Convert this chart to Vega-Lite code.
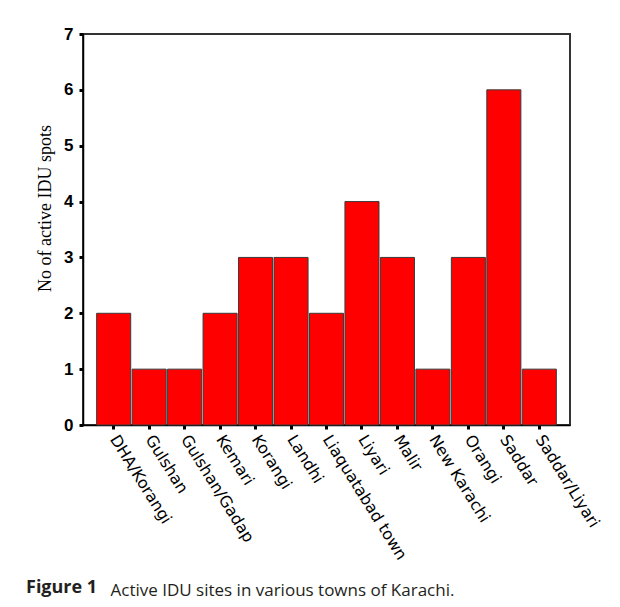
{
  "$schema": "https://vega.github.io/schema/vega-lite/v6.json",
  "autosize": "none",
  "width": 487,
  "height": 391,
  "padding": {"left": 83, "top": 34, "right": 50, "bottom": 182},
  "background": "white",
  "data": {
    "values": [
      {"town": "DHA/Korangi", "spots": 2},
      {"town": "Gulshan", "spots": 1},
      {"town": "Gulshan/Gadap", "spots": 1},
      {"town": "Kemari", "spots": 2},
      {"town": "Korangi", "spots": 3},
      {"town": "Landhi", "spots": 3},
      {"town": "Liaquatabad town", "spots": 2},
      {"town": "Liyari", "spots": 4},
      {"town": "Malir", "spots": 3},
      {"town": "New Karachi", "spots": 1},
      {"town": "Orangi", "spots": 3},
      {"town": "Saddar", "spots": 6},
      {"town": "Saddar/Liyari", "spots": 1}
    ]
  },
  "title": {
    "text": "Figure 1",
    "orient": "bottom",
    "anchor": "start",
    "frame": "group",
    "dx": -57,
    "offset": -5,
    "baseline": "alphabetic",
    "font": "Open Sans",
    "fontSize": 18,
    "fontWeight": "bold",
    "color": "#231f20"
  },
  "mark": {"type": "bar", "color": "#ff0000", "stroke": "#3a3a3a", "strokeWidth": 1},
  "encoding": {
    "x": {
      "field": "town",
      "type": "nominal",
      "sort": null,
      "scale": {"paddingInner": 0.04, "paddingOuter": 0.385},
      "axis": {
        "title": "Active IDU sites in various towns of Karachi.",
        "titleFont": "Open Sans",
        "titleFontSize": 17,
        "titleFontWeight": "normal",
        "titleColor": "#231f20",
        "titleAlign": "left",
        "titleAnchor": "start",
        "titleBaseline": "alphabetic",
        "titleX": 27,
        "titleY": 170,
        "labelAngle": 58,
        "labelAlign": "left",
        "labelBaseline": "middle",
        "labelFont": "DejaVu Sans",
        "labelFontSize": 16,
        "labelColor": "#000",
        "labelPadding": 7,
        "labelDx": 4,
        "tickSize": 4,
        "tickWidth": 3,
        "tickColor": "#000",
        "domainColor": "#000",
        "domainWidth": 1.5,
        "labelOverlap": false
      }
    },
    "y": {
      "field": "spots",
      "type": "quantitative",
      "scale": {"domain": [0, 7], "nice": false},
      "axis": {
        "title": "No of active IDU spots",
        "titleFont": "Liberation Serif",
        "titleFontSize": 18,
        "titleFontWeight": "normal",
        "titleColor": "#000",
        "titlePadding": 9,
        "titleY": 174,
        "values": [0, 1, 2, 3, 4, 5, 6, 7],
        "grid": false,
        "labelFont": "Liberation Sans",
        "labelFontSize": 17,
        "labelFontWeight": "bold",
        "labelColor": "#000",
        "labelPadding": 6,
        "tickSize": 4,
        "tickWidth": 3,
        "tickColor": "#000",
        "domainColor": "#000",
        "domainWidth": 1.5
      }
    }
  },
  "config": {
    "view": {"stroke": "#333", "strokeWidth": 2}
  }
}
